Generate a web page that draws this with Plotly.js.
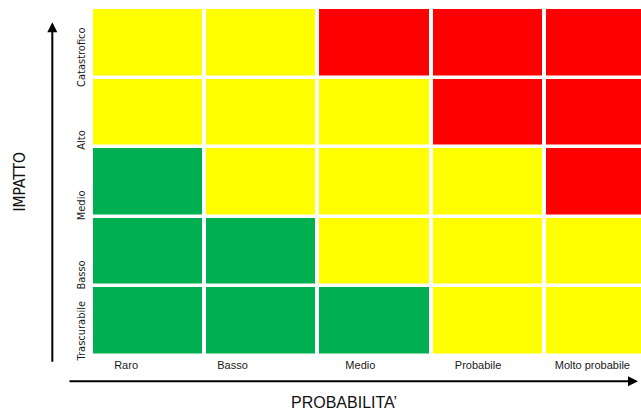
<!DOCTYPE html>
<html>
<head>
<meta charset="utf-8">
<script src="https://cdn.plot.ly/plotly-3.0.1.min.js"></script>
<style>
  html, body { margin: 0; padding: 0; background: #ffffff; overflow: hidden; }
  #matrice { width: 641px; height: 410px; }
</style>
</head>
<body>
<div id="matrice"></div>
<script>
// Probabilità (asse orizzontale) e impatto (asse verticale, dal basso verso l'alto)
const probabilita = ['Raro', 'Basso', 'Medio', 'Probabile', 'Molto probabile'];
const impatto = ['Trascurabile', 'Basso', 'Medio', 'Alto', 'Catastrofico'];

// Livello di rischio per riga di impatto: 0 = basso (verde), 1 = medio (giallo), 2 = alto (rosso)
const rischioTrascurabile = [0, 0, 0, 1, 1];
const rischioBasso        = [0, 0, 1, 1, 1];
const rischioMedio        = [0, 1, 1, 1, 2];
const rischioAlto         = [1, 1, 1, 2, 2];
const rischioCatastrofico = [1, 1, 2, 2, 2];

const livelli = [rischioTrascurabile, rischioBasso, rischioMedio, rischioAlto, rischioCatastrofico];

// Spostamento delle etichette rispetto al centro delle celle (in unità di asse)
const spostamentoX = [-0.19, -0.25, -0.12, -0.08, -0.07];
const spostamentoY = [-0.16, -0.36, -0.36, -0.42, -0.23];

const verde = '#00AF50';
const giallo = '#FFFF00';
const rosso = '#FF0000';

const indiciX = probabilita.map((_, i) => i);
const indiciY = impatto.map((_, i) => i);

const trace = {
  type: 'heatmap',
  x: indiciX,
  y: indiciY,
  z: livelli,
  zmin: 0,
  zmax: 2,
  colorscale: [
    [0, verde], [0.3333, verde],
    [0.3333, giallo], [0.6667, giallo],
    [0.6667, rosso], [1, rosso]
  ],
  showscale: false,
  xgap: 4,
  ygap: 3.5,
  hoverinfo: 'skip'
};

const fontStretto = 'Liberation Sans Narrow, Arial Narrow, DejaVu Sans Condensed, sans-serif';
const fontTitoli = 'Liberation Sans, Arial, sans-serif';

const PL = 90.7, PT = 7.75, PW = 641 - PL, PH = 348;
const px = v => (v - PL) / PW;
const py = v => (PT + PH - v) / PH;

const layout = {
  width: 641,
  height: 410,
  margin: { l: PL, r: 0, t: PT, b: 410 - PT - PH, pad: 0 },
  paper_bgcolor: '#ffffff',
  plot_bgcolor: '#ffffff',
  showlegend: false,
  xaxis: {
    range: [-0.5, 4.36],
    tickvals: indiciX.map((i) => i + spostamentoX[i]),
    ticktext: probabilita,
    ticks: '',
    ticklabelstandoff: 1,
    showgrid: false,
    zeroline: false,
    showline: false,
    fixedrange: true,
    tickfont: { family: fontTitoli, size: 11, color: '#1a1a1a' }
  },
  yaxis: {
    range: [-0.5, 4.5],
    tickvals: indiciY.map((i) => i + spostamentoY[i]),
    ticktext: impatto,
    tickangle: -90,
    ticks: '',
    ticklabelstandoff: 3,
    showgrid: false,
    zeroline: false,
    showline: false,
    fixedrange: true,
    tickfont: { family: fontStretto, size: 11, color: '#1a1a1a' }
  },
  annotations: [
    // freccia verticale (impatto)
    {
      xref: 'paper', yref: 'paper',
      x: px(52), y: py(22),
      ax: 0, ay: 341,
      showarrow: true, arrowhead: 2, arrowsize: 1, arrowwidth: 2,
      arrowcolor: '#000000', text: ''
    },
    // freccia orizzontale (probabilità)
    {
      xref: 'paper', yref: 'paper',
      x: px(638), y: py(381),
      ax: -570, ay: 0,
      showarrow: true, arrowhead: 2, arrowsize: 1, arrowwidth: 2,
      arrowcolor: '#000000', text: ''
    },
    {
      xref: 'paper', yref: 'paper',
      x: px(20), y: py(181),
      xanchor: 'center', yanchor: 'middle',
      text: 'IMPATTO', textangle: -90, showarrow: false,
      font: { family: fontStretto, size: 15.5, color: '#111111' }
    },
    {
      xref: 'paper', yref: 'paper',
      x: px(344), y: py(402),
      xanchor: 'center', yanchor: 'middle',
      text: 'PROBABILITA’', showarrow: false,
      font: { family: fontTitoli, size: 16, color: '#111111' }
    }
  ]
};

Plotly.newPlot('matrice', [trace], layout, { displayModeBar: false, staticPlot: true });
</script>
</body>
</html>
